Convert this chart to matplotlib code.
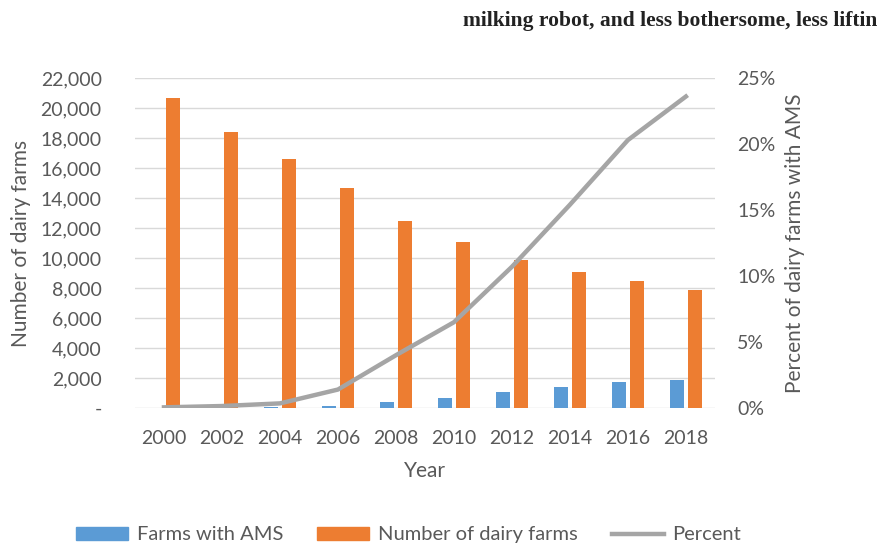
import numpy as np
import matplotlib
matplotlib.use('Agg')
import matplotlib.pyplot as plt
from matplotlib.ticker import FuncFormatter, MultipleLocator
from matplotlib.patches import Patch
from matplotlib.lines import Line2D

plt.rcParams['font.family'] = ['Lato', 'DejaVu Sans']

# data
years = ['2000', '2002', '2004', '2006', '2008', '2010', '2012', '2014', '2016', '2018']
farms_ams = [5, 15, 40, 160, 400, 690, 1050, 1380, 1730, 1870]
dairy_farms = [20700, 18400, 16600, 14700, 12500, 11100, 9870, 9070, 8470, 7870]
percent = [0.05, 0.15, 0.35, 1.4, 4.0, 6.5, 10.7, 15.4, 20.3, 23.6]

blue = '#5B9BD5'
orange = '#ED7D31'
grey = '#A5A5A5'
txt = '#595959'

fig = plt.figure(figsize=(8.84, 5.43), dpi=100)
ax = fig.add_axes([0.1527, 0.2486, 0.656, 0.6077])
x = np.arange(len(years))
w = 0.24

ax.bar(x - 0.15, farms_ams, w, color=blue, zorder=3)
ax.bar(x + 0.15, dairy_farms, w, color=orange, zorder=3)
ax.set_xlim(-0.5, len(years) - 0.5)
ax.set_ylim(0, 22000)
ax.yaxis.set_major_locator(MultipleLocator(2000))
ax.yaxis.set_major_formatter(FuncFormatter(lambda v, p: '-' if v == 0 else f'{int(v):,}'))
ax.grid(axis='y', color='#D9D9D9', lw=1, zorder=0)
for s in ax.spines.values():
    s.set_visible(False)
ax.set_xticks(x)
ax.set_xticklabels(years)
ax.tick_params(axis='both', length=0, labelsize=14, colors=txt)
ax.tick_params(axis='x', pad=16)
ax.tick_params(axis='y', pad=24)
ax.set_xlabel('Year', fontsize=15, color=txt, labelpad=10)
ax.set_ylabel('Number of dairy farms', fontsize=15, color=txt, labelpad=7)

ax2 = ax.twinx()
ax2.plot(x, percent, color=grey, lw=3.2, zorder=4)
ax2.set_ylim(0, 25)
ax2.yaxis.set_major_locator(MultipleLocator(5))
ax2.yaxis.set_major_formatter(FuncFormatter(lambda v, p: f'{int(v)}%'))
for s in ax2.spines.values():
    s.set_visible(False)
ax2.tick_params(axis='y', length=0, labelsize=14, colors=txt, pad=16)
ax2.set_ylabel('Percent of dairy farms with AMS', fontsize=15, color=txt, labelpad=7)

handles = [Patch(color=blue), Patch(color=orange), Line2D([], [], color=grey, lw=3.2)]
labels = ['Farms with AMS', 'Number of dairy farms', 'Percent']
fig.legend(handles, labels, loc='center', bbox_to_anchor=(0.462, 0.015), ncol=3,
           frameon=False, fontsize=14.5, labelcolor=txt, handlelength=2.6,
           handleheight=0.6, handletextpad=0.4, columnspacing=1.7)

fig.text(0.524, 0.952, 'milking robot, and less bothersome, less liftin',
         family='Liberation Serif', fontsize=15.5, fontweight='bold', color='#222222')

fig.savefig('out.png', dpi=100)
